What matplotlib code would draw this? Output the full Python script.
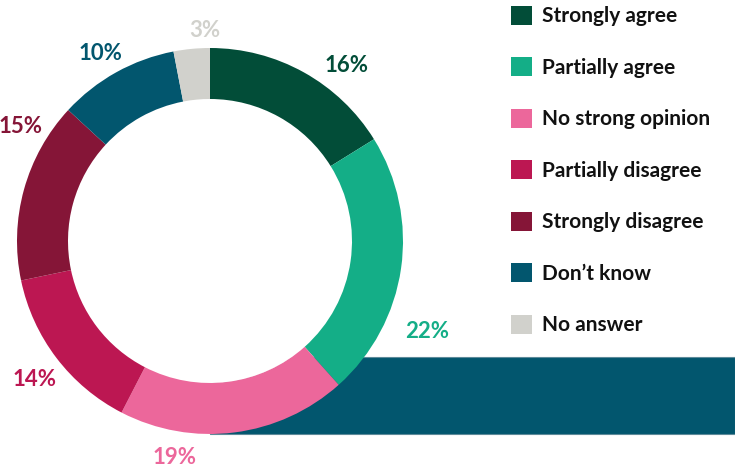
import matplotlib
matplotlib.use("Agg")
import matplotlib.pyplot as plt
from matplotlib.patches import Rectangle, Circle

categories = ["Strongly agree", "Partially agree", "No strong opinion",
              "Partially disagree", "Strongly disagree", "Don\u2019t know",
              "No answer"]
shares = [16, 22, 19, 14, 15, 10, 3]
colors = ["#024d38", "#14ae87", "#ec679b", "#bc1752", "#851537",
          "#02566e", "#d1d1cc"]

# label centres in pixels (x, y from top)
label_px = [(347, 65), (427, 332), (175, 457), (35, 380), (21, 126),
            (100, 53), (205, 30)]

W, H = 735, 473
plt.rcParams['font.family'] = ['Lato', 'DejaVu Sans']

fig = plt.figure(figsize=(W / 100, H / 100), dpi=100)
ax = fig.add_axes([0, 0, 1, 1])

cx, cy, r, ring = 210, H - 241, 193, 51

# background band behind the ring
ax.add_patch(Rectangle((cx, H - 434), W - cx, 77, facecolor="#02566e",
                       edgecolor="#5d8a99", linewidth=0.8, zorder=0))

wedges, _ = ax.pie(shares, colors=colors, radius=r, center=(cx, cy),
                   startangle=90, counterclock=False,
                   wedgeprops=dict(width=ring, linewidth=0))
for w in wedges:
    w.set_zorder(2)
ax.add_patch(Circle((cx, cy), r - ring, color="white", zorder=1))

for val, col, (lx, ly) in zip(shares, colors, label_px):
    ax.text(lx, H - ly, f"{val}%", color=col, fontsize=16,
            fontweight='bold', ha='center', va='center')

ax.set_xlim(0, W)
ax.set_ylim(0, H)
ax.axis('off')

leg = fig.legend(wedges, categories, loc='upper left',
                 bbox_to_anchor=(0.670, 1.027), frameon=False,
                 fontsize=15, handlelength=1.0, handleheight=1.0,
                 labelspacing=1.49, handletextpad=0.48)
for t in leg.get_texts():
    t.set_fontweight('bold')
    t.set_color("#111111")

fig.savefig("out.png", dpi=100)
